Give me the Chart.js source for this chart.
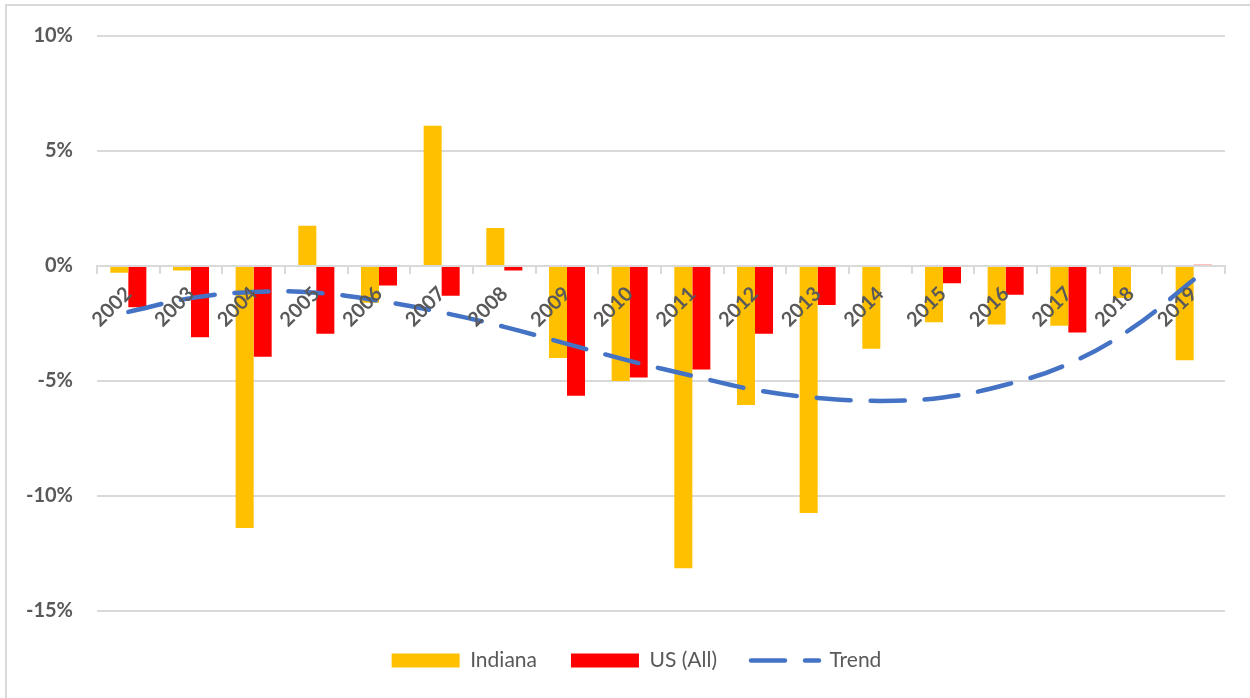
<!DOCTYPE html>
<html>
<head>
<meta charset="utf-8">
<script src="https://cdn.jsdelivr.net/npm/chart.js@4.4.1/dist/chart.umd.min.js"></script>
<style>
  html, body { margin: 0; padding: 0; background: #fff; }
  #wrap { position: relative; width: 1250px; height: 698px; overflow: hidden; }
  #frame { position: absolute; left: 5px; top: 4px; width: 1300px; height: 800px;
           border-top: 2px solid #d9d9d9; border-left: 2px solid #d9d9d9; }
  #growthChart { position: absolute; left: 0; top: 0; }
</style>
</head>
<body>
<div id="wrap">
  <div id="frame"></div>
  <canvas id="growthChart" width="1250" height="698"></canvas>
</div>
<script>
// chart data, percent change by year
var years = ["2002", "2003", "2004", "2005", "2006", "2007", "2008", "2009", "2010",
             "2011", "2012", "2013", "2014", "2015", "2016", "2017", "2018", "2019"];
var indiana = [-0.3, -0.2, -11.4, 1.75, -1.6, 6.1, 1.65, -4.0, -5.0,
               -13.15, -6.05, -10.75, -3.6, -2.45, -2.55, -2.6, -1.4, -4.1];
var usAll = [-1.8, -3.1, -3.95, -2.95, -0.85, -1.3, -0.2, -5.65, -4.85,
             -4.5, -2.95, -1.7, -0.05, -0.75, -1.25, -2.9, 0, 0.05];
var trend = [-2.0, -1.4, -1.13, -1.17, -1.52, -2.02, -2.65, -3.39, -4.13,
             -4.78, -5.39, -5.74, -5.87, -5.72, -5.17, -4.26, -2.74, -0.6];
var yTicks = [10, 5, 0, -5, -10, -15];

var textColor = "#595959";
var gridColor = "#d9d9d9";
var trendDash = [34, 20];

// move the legend a bit to the right, like the original
var legendShift = {
    id: "legendShift",
    afterLayout: function (chart) {
        chart.legend.left += 24;
        chart.legend.right += 24;
    }
};

var ctx = document.getElementById("growthChart");

var growthChart = new Chart(ctx, {
    type: "bar",
    data: {
        labels: years,
        datasets: [
            {
                label: "Indiana",
                data: indiana,
                backgroundColor: "#ffc000",
                borderWidth: 0,
                barPercentage: 1.0,
                categoryPercentage: 0.575
            },
            {
                label: "US (All)",
                data: usAll,
                backgroundColor: "#ff0000",
                borderWidth: 0,
                barPercentage: 1.0,
                categoryPercentage: 0.575
            },
            {
                type: "line",
                label: "Trend",
                data: trend,
                order: -1,
                borderColor: "#4472c4",
                backgroundColor: "#4472c4",
                borderWidth: 4.5,
                borderDash: trendDash,
                borderCapStyle: "round",
                tension: 0.4,
                pointRadius: 0,
                fill: false
            }
        ]
    },
    plugins: [legendShift],
    options: {
        responsive: false,
        animation: false,
        layout: {
            padding: { left: 0, right: 25, top: 35, bottom: 17 }
        },
        plugins: {
            tooltip: { enabled: false },
            title: { display: false },
            legend: {
                position: "bottom",
                title: { display: true, text: "", font: { size: 1 }, padding: { top: 4, bottom: 0 } },
                labels: {
                    color: textColor,
                    font: { family: "Lato", size: 21 },
                    usePointStyle: true,
                    pointStyleWidth: 68,
                    boxHeight: 14,
                    padding: 34,
                    generateLabels: function (chart) {
                        var items = Chart.defaults.plugins.legend.labels.generateLabels(chart);
                        items.sort(function (a, b) { return a.datasetIndex - b.datasetIndex; });
                        items.forEach(function (item) {
                            if (item.datasetIndex == 2) {
                                item.pointStyle = "line";
                                item.lineDash = trendDash;
                                item.lineWidth = 4.5;
                                item.lineCap = "round";
                                item.strokeStyle = "#4472c4";
                            } else {
                                item.pointStyle = "rect";
                                item.lineWidth = 0;
                            }
                        });
                        return items;
                    }
                }
            }
        },
        scales: {
            x: {
                position: { y: 0 },
                offset: true,
                grid: {
                    offset: true,
                    drawOnChartArea: false,
                    drawTicks: true,
                    tickLength: 7,
                    color: gridColor,
                    lineWidth: 2
                },
                border: { display: true, color: gridColor, width: 2 },
                ticks: {
                    z: 1,
                    color: textColor,
                    font: { family: "Lato", size: 20, weight: "bold" },
                    minRotation: 45,
                    maxRotation: 45,
                    autoSkip: false,
                    padding: 9
                }
            },
            y: {
                min: -15,
                max: 10,
                afterBuildTicks: function (scale) {
                    scale.ticks = yTicks.map(function (v) { return { value: v }; });
                },
                afterFit: function (scale) {
                    scale.width = 97;
                },
                grid: {
                    color: gridColor,
                    lineWidth: 2,
                    drawTicks: false
                },
                border: { display: false },
                ticks: {
                    color: textColor,
                    font: { family: "Lato", size: 20, weight: "bold" },
                    padding: 24,
                    callback: function (v) { return v + "%"; }
                }
            }
        }
    }
});
</script>
</body>
</html>
